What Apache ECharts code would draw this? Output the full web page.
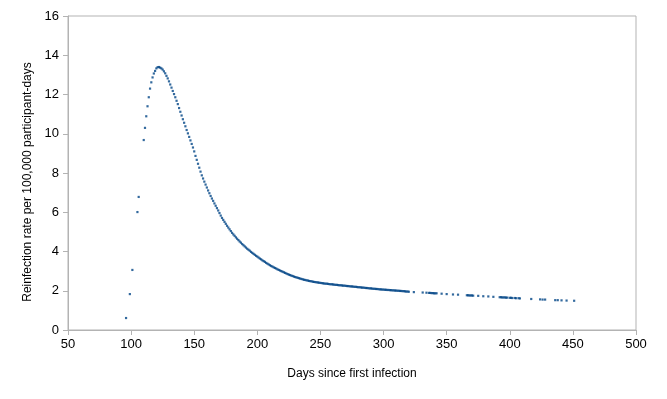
<!DOCTYPE html>
<html>
<head>
<meta charset="utf-8">
<script src="https://cdn.jsdelivr.net/npm/echarts@6/dist/echarts.min.js"></script>
<style>
  html, body { margin: 0; padding: 0; background: #fff; }
  #chart { width: 667px; height: 399px; }
</style>
</head>
<body>
<div id="chart"></div>
<script>
// first few sparse points on the rising side
var earlyDays = [96, 99, 101, 105, 106];
var earlyRates = [0.61, 1.83, 3.06, 6.01, 6.78];

// dense part, one point per day starting at denseFirstDay
var denseFirstDay = 110;
var denseRates = [
  9.68, 10.3, 10.89, 11.4, 11.86, 12.3, 12.62, 12.87, 13.07, 13.2,
  13.33, 13.39, 13.4, 13.37, 13.33, 13.27, 13.18, 13.08, 12.95, 12.82,
  12.67, 12.51, 12.35, 12.18, 12.02, 11.86, 11.68, 11.51, 11.31, 11.12,
  10.93, 10.74, 10.56, 10.38, 10.19, 10.02, 9.84, 9.66, 9.48, 9.3,
  9.1, 8.87, 8.67, 8.47, 8.27, 8.07, 7.88, 7.72, 7.56, 7.41,
  7.26, 7.11, 6.97, 6.83, 6.7, 6.58, 6.45, 6.33, 6.21, 6.09,
  5.96, 5.83, 5.71, 5.61, 5.51, 5.41, 5.31, 5.22, 5.13, 5.04,
  4.95, 4.87, 4.8, 4.72, 4.65, 4.58, 4.51, 4.45, 4.38, 4.32,
  4.26, 4.2, 4.14, 4.09, 4.04, 3.98, 3.93, 3.88, 3.83, 3.78,
  3.74, 3.69, 3.64, 3.6, 3.55, 3.51, 3.47, 3.42, 3.38, 3.34,
  3.3, 3.26, 3.23, 3.19, 3.16, 3.13, 3.09, 3.06, 3.03, 3.0,
  2.97, 2.94, 2.91, 2.88, 2.85, 2.82, 2.8, 2.77, 2.75, 2.72,
  2.7, 2.68, 2.66, 2.64, 2.62, 2.6, 2.58, 2.56, 2.55, 2.53,
  2.52, 2.5, 2.49, 2.48, 2.46, 2.45, 2.44, 2.43, 2.42, 2.41,
  2.4, 2.39, 2.38, 2.37, 2.36, 2.36, 2.35, 2.34, 2.33, 2.33,
  2.32, 2.31, 2.3, 2.3, 2.29, 2.28, 2.28, 2.27, 2.26, 2.26,
  2.25, 2.24, 2.24, 2.23, 2.22, 2.22, 2.21, 2.2, 2.2, 2.19,
  2.18, 2.18, 2.17, 2.16, 2.16, 2.15, 2.14, 2.14, 2.13, 2.12,
  2.12, 2.11, 2.1, 2.1, 2.09, 2.09, 2.08, 2.07, 2.07, 2.06,
  2.06, 2.05, 2.05, 2.04, 2.04, 2.03, 2.03, 2.02, 2.02, 2.01,
  2.01, 2.0, 2.0, 1.99, 1.99, 1.98, 1.98, 1.97, 1.96, 1.96,
  1.95
];

// sparser tail
var tailDays = [324, 331, 334, 336, 337, 338, 339, 340, 341, 342,
  346, 350, 355, 359, 366, 367, 368, 369, 370, 371,
  375, 379, 383, 387, 392, 393, 394, 395, 396, 397,
  398, 400, 401, 402, 404, 405, 407, 408, 417, 424,
  426, 428, 436, 438, 441, 445, 451];
var tailRates = [1.93, 1.91, 1.9, 1.89, 1.89, 1.88, 1.88, 1.87, 1.87, 1.87,
  1.85, 1.83, 1.81, 1.8, 1.77, 1.77, 1.76, 1.76, 1.76, 1.75,
  1.74, 1.72, 1.71, 1.69, 1.67, 1.67, 1.66, 1.66, 1.66, 1.65,
  1.65, 1.64, 1.64, 1.63, 1.63, 1.62, 1.62, 1.61, 1.58, 1.56,
  1.55, 1.55, 1.52, 1.52, 1.51, 1.5, 1.49];

var xMin = 50, xMax = 500, xStep = 50;
var yMin = 0, yMax = 16, yStep = 2;

var points = [];
earlyDays.forEach(function (d, i) { points.push([d, earlyRates[i]]); });
denseRates.forEach(function (r, i) { points.push([denseFirstDay + i, r]); });
tailDays.forEach(function (d, i) { points.push([d, tailRates[i]]); });

var chart = echarts.init(document.getElementById("chart"));
var axisGray = "#b3b3b3";
var font = "Liberation Sans";
chart.setOption({
  animation: false,
  grid: {
    left: 68, right: 31, top: 16, bottom: 69,
    show: true, borderColor: axisGray, borderWidth: 1
  },
  xAxis: {
    type: "value", min: xMin, max: xMax, interval: xStep,
    name: "Days since first infection",
    nameLocation: "middle", nameGap: 38,
    nameTextStyle: { fontFamily: font, fontSize: 12, color: "#000" },
    axisLine: { lineStyle: { color: axisGray } },
    axisTick: { show: true, length: 5, lineStyle: { color: axisGray } },
    axisLabel: { fontFamily: font, fontSize: 13, color: "#000", margin: 8 },
    splitLine: { show: false }
  },
  yAxis: {
    type: "value", min: yMin, max: yMax, interval: yStep,
    name: "Reinfection rate per 100,000 participant-days",
    nameLocation: "middle", nameGap: 33,
    nameTextStyle: { fontFamily: font, fontSize: 12, color: "#000", padding: [0, 18, 0, 0] },
    axisLine: { show: true, lineStyle: { color: axisGray } },
    axisTick: { show: true, length: 5, lineStyle: { color: axisGray } },
    axisLabel: { fontFamily: font, fontSize: 13, color: "#000", margin: 9 },
    splitLine: { show: false }
  },
  series: [{
    type: "scatter",
    data: points,
    symbol: "rect",
    symbolSize: 2.2,
    itemStyle: { color: "#004586" }
  }]
});
</script>
</body>
</html>
